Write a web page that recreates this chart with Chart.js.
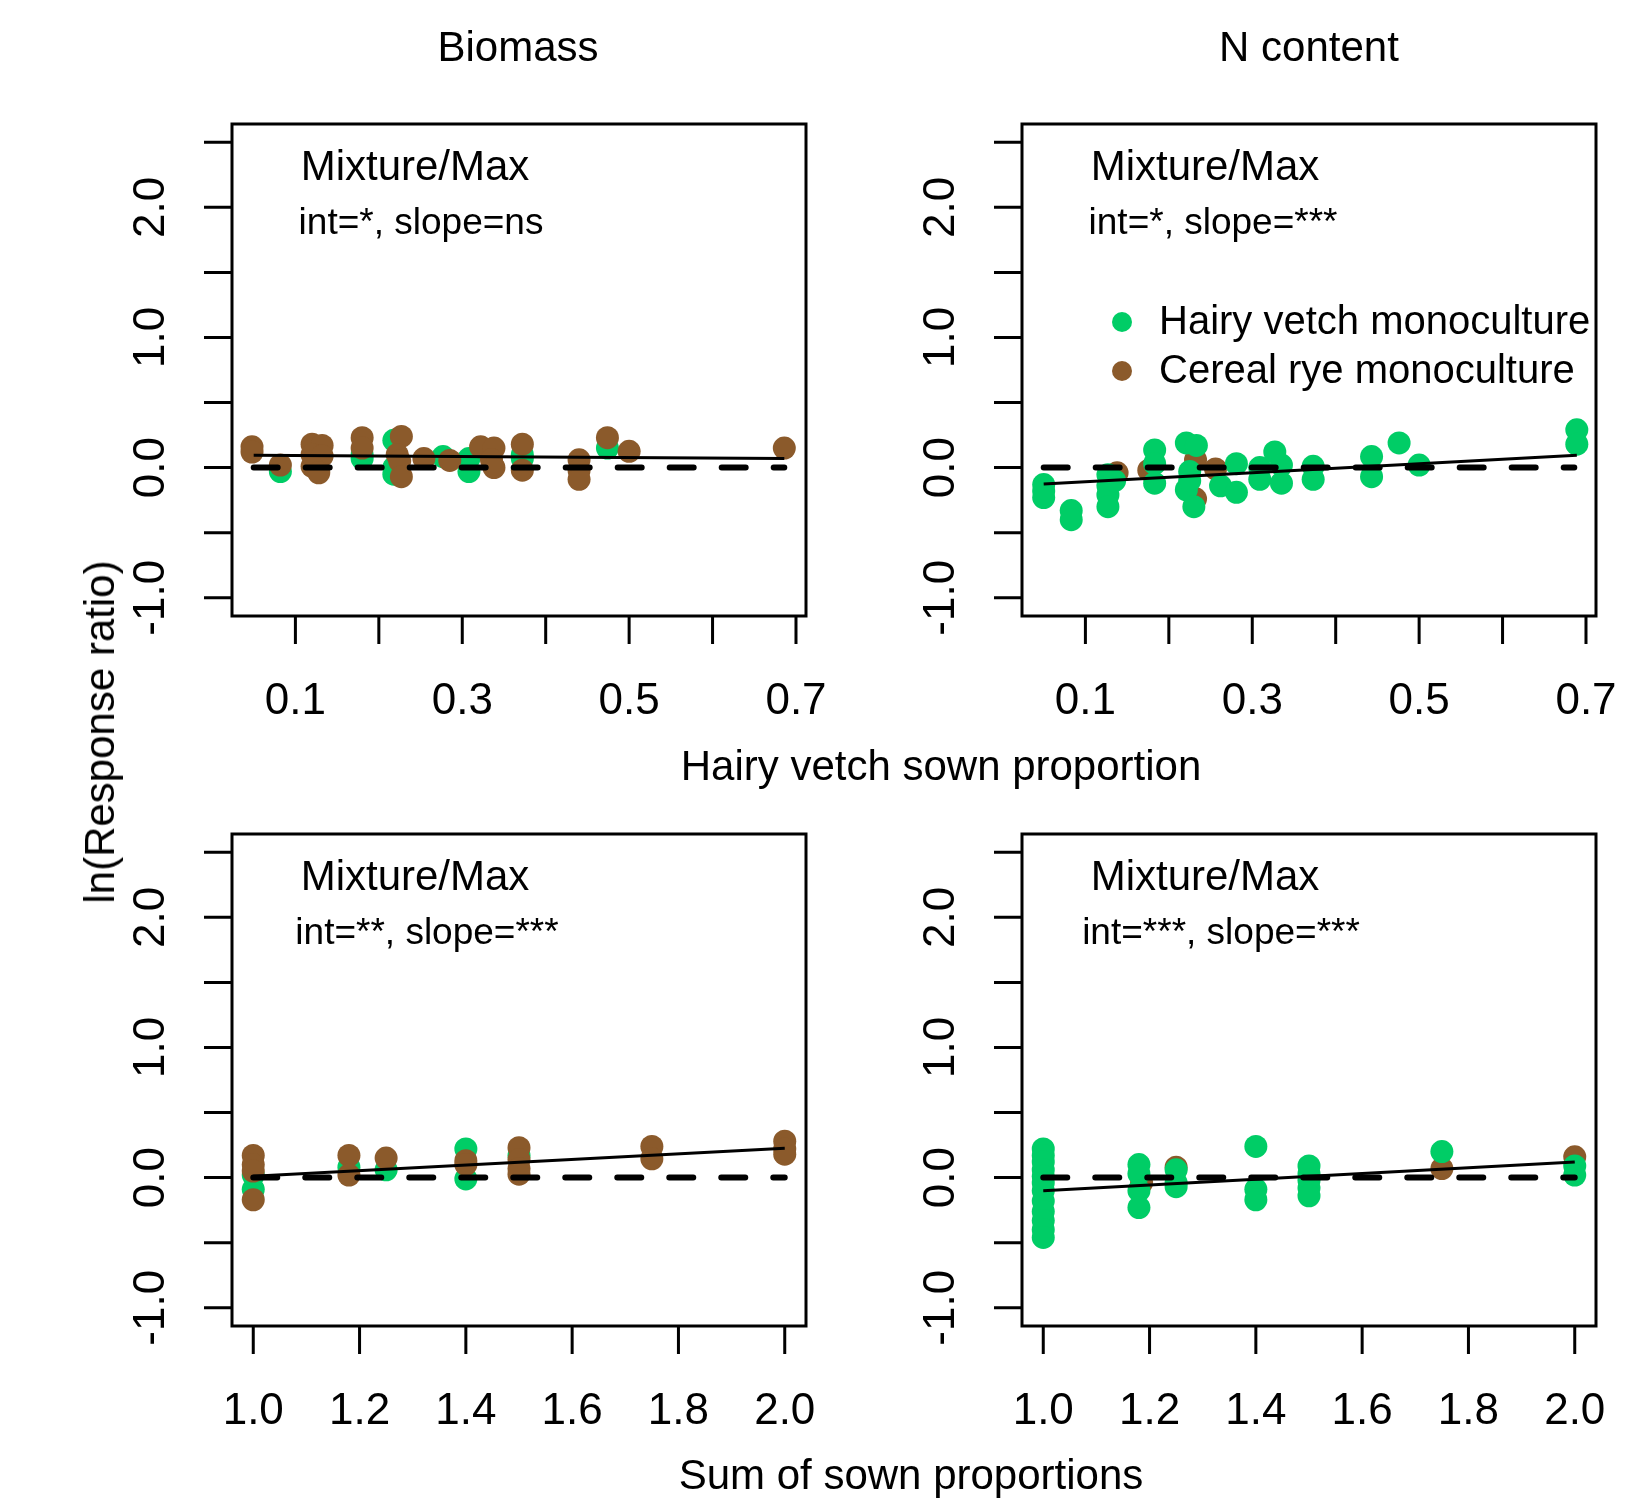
<!DOCTYPE html>
<html>
<head>
<meta charset="utf-8">
<title>ln(Response ratio)</title>
<script src="https://cdn.jsdelivr.net/npm/chart.js@4.4.0/dist/chart.umd.min.js"></script>
<style>
body { margin: 0; background: #fff; }
#wrap { position: relative; width: 1652px; height: 1503px; font-family: "Liberation Sans", Arial, sans-serif; }
#wrap canvas { position: absolute; left: 0; top: 0; }
.lab { position: absolute; color: #000; font-size: 42px; white-space: nowrap; transform: translate(-50%, -50%); }
</style>
</head>
<body>
<div id="wrap">
  <canvas id="c1" width="1652" height="1503"></canvas>
  <canvas id="c2" width="1652" height="1503"></canvas>
  <canvas id="c3" width="1652" height="1503"></canvas>
  <canvas id="c4" width="1652" height="1503"></canvas>
  <div class="lab" style="left:518px;top:47px">Biomass</div>
  <div class="lab" style="left:1309px;top:47px">N content</div>
  <div class="lab" style="left:941px;top:766px">Hairy vetch sown proportion</div>
  <div class="lab" style="left:911px;top:1475px">Sum of sown proportions</div>
  <div class="lab" style="left:100px;top:732px;transform:translate(-50%,-50%) rotate(-90deg)">ln(Response ratio)</div>
</div>
<script>
/** ticks */
const propTicks = [0.1, 0.2, 0.3, 0.4, 0.5, 0.6, 0.7];
const propLabels = [0.1, 0.3, 0.5, 0.7];
const sumTicks = [1.0, 1.2, 1.4, 1.6, 1.8, 2.0];
const sumLabels = [1.0, 1.2, 1.4, 1.6, 1.8, 2.0];
const yTicks = [-1, -0.5, 0, 0.5, 1, 1.5, 2, 2.5];
const yLabels = [-1, 0, 1, 2];

/** Biomass ~ hairy vetch sown proportion */
const bioPropVetch = [[0.082,-0.03],[0.18,0.07],[0.18,0.10],[0.218,0.21],[0.218,0.0],[0.218,-0.05],[0.277,0.085],[0.308,0.07],[0.308,-0.03],[0.372,0.07],[0.372,0.10],[0.474,0.15]];
const bioPropRye = [[0.048,0.16],[0.048,0.12],[0.082,0.02],[0.12,0.18],[0.132,0.17],[0.12,0.10],[0.132,0.09],[0.12,0.01],[0.128,-0.04],[0.18,0.23],[0.18,0.15],[0.227,0.24],[0.222,0.10],[0.225,0.05],[0.227,-0.07],[0.254,0.07],[0.285,0.055],[0.322,0.16],[0.338,0.15],[0.335,0.06],[0.338,0.0],[0.372,0.18],[0.372,-0.02],[0.44,0.06],[0.44,-0.02],[0.44,-0.09],[0.474,0.23],[0.50,0.125],[0.686,0.15]];
const fitBioProp = [[0.05,0.095],[0.686,0.07]];

/** N content ~ hairy vetch sown proportion */
const nPropVetch = [[0.05,-0.13],[0.05,-0.18],[0.05,-0.23],[0.083,-0.33],[0.083,-0.40],[0.127,-0.055],[0.127,-0.14],[0.127,-0.21],[0.127,-0.30],[0.135,-0.10],[0.183,0.136],[0.183,0.03],[0.183,-0.12],[0.221,0.19],[0.233,0.17],[0.225,-0.03],[0.221,-0.17],[0.23,-0.30],[0.225,-0.10],[0.262,-0.14],[0.281,0.03],[0.281,-0.19],[0.309,0.0],[0.309,-0.09],[0.327,0.12],[0.335,0.02],[0.335,-0.12],[0.373,0.01],[0.373,-0.09],[0.443,0.085],[0.443,-0.07],[0.476,0.19],[0.50,0.02],[0.689,0.29],[0.689,0.18]];
const nPropRye = [[0.138,-0.04],[0.176,-0.02],[0.232,0.06],[0.232,-0.24],[0.256,-0.01]];
const fitNProp = [[0.05,-0.125],[0.689,0.095]];
const zeroProp = [[0.05,0],[0.686,0]];

/** Biomass ~ sum of sown proportions */
const bioSumVetch = [[1.0,0.02],[1.0,-0.09],[1.18,0.08],[1.25,0.06],[1.40,0.22],[1.40,-0.01],[1.50,0.17]];
const bioSumRye = [[1.0,0.17],[1.0,0.10],[1.0,0.05],[1.0,-0.17],[1.18,0.17],[1.18,0.02],[1.25,0.15],[1.40,0.13],[1.40,0.10],[1.50,0.23],[1.50,0.14],[1.50,0.07],[1.50,0.026],[1.75,0.24],[1.75,0.145],[2.0,0.28],[2.0,0.22],[2.0,0.18]];
const fitBioSum = [[1.0,0.01],[2.0,0.225]];

/** N content ~ sum of sown proportions */
const nSumVetch = [[1.0,0.22],[1.0,0.17],[1.0,0.12],[1.0,0.06],[1.0,0.01],[1.0,-0.04],[1.0,-0.10],[1.0,-0.18],[1.0,-0.26],[1.0,-0.33],[1.0,-0.40],[1.0,-0.46],[1.18,0.10],[1.18,0.03],[1.18,-0.10],[1.18,-0.23],[1.25,0.06],[1.25,-0.04],[1.25,-0.07],[1.40,0.24],[1.40,-0.09],[1.40,-0.17],[1.50,0.09],[1.50,0.03],[1.50,-0.02],[1.50,-0.08],[1.50,-0.14],[1.75,0.20],[2.0,0.09],[2.0,0.02]];
const nSumRye = [[1.185,-0.04],[1.25,0.08],[1.75,0.07],[2.0,0.16]];
const fitNSum = [[1.0,-0.10],[2.0,0.12]];
const zeroSum = [[1.0,0],[2.0,0]];

const green = "rgb(0, 205, 102)";
const brown = "rgb(139, 90, 43)";
const font = '"Liberation Sans", Arial, sans-serif';

function toXY(arr) {
  return arr.map(function (p) { return { x: p[0], y: p[1] }; });
}

/** ejes estilo R: caja, ticks hacia fuera, etiquetas rotadas en y */
const rAxes = {
  id: 'rAxes',
  afterDraw: function (chart, args, opts) {
    var ctx = chart.ctx;
    var a = chart.chartArea;
    var xs = chart.scales.x, ys = chart.scales.y;
    ctx.save();
    ctx.strokeStyle = '#000';
    ctx.lineWidth = 3;
    ctx.strokeRect(a.left, a.top, a.right - a.left, a.bottom - a.top);
    ctx.beginPath();
    opts.xTicks.forEach(function (v) {
      var px = xs.getPixelForValue(v);
      ctx.moveTo(px, a.bottom);
      ctx.lineTo(px, a.bottom + 28);
    });
    opts.yTicks.forEach(function (v) {
      var py = ys.getPixelForValue(v);
      ctx.moveTo(a.left, py);
      ctx.lineTo(a.left - 28, py);
    });
    ctx.stroke();

    ctx.fillStyle = '#000';
    ctx.textAlign = 'center';
    ctx.textBaseline = 'middle';
    ctx.font = '44px ' + font;
    opts.xLabels.forEach(function (v) {
      ctx.fillText(v.toFixed(1), xs.getPixelForValue(v), a.bottom + 86);
    });
    opts.yLabels.forEach(function (v) {
      ctx.save();
      ctx.translate(a.left - 80, ys.getPixelForValue(v));
      ctx.rotate(-Math.PI / 2);
      ctx.fillText(v.toFixed(1), 0, 0);
      ctx.restore();
    });

    ctx.font = '42px ' + font;
    ctx.fillText('Mixture/Max', a.left + 183, a.top + 44);
    ctx.font = '37px ' + font;
    ctx.fillText(opts.note, a.left + opts.noteX, a.top + 100);

    if (opts.legend) {
      var items = [chart.data.datasets[2], chart.data.datasets[3]];
      ctx.font = '40px ' + font;
      ctx.textAlign = 'left';
      items.forEach(function (ds, i) {
        var cy = a.top + 199 + i * 49;
        ctx.fillStyle = ds.backgroundColor;
        ctx.beginPath();
        ctx.arc(a.left + 100, cy - 1, 10, 0, Math.PI * 2);
        ctx.fill();
        ctx.fillStyle = '#000';
        ctx.fillText(ds.label, a.left + 137, cy);
      });
    }
    ctx.restore();
  }
};

function panel(id, box, xMin, xMax, vetch, rye, fit, zero, greenTop, axis) {
  var ctx = document.getElementById(id).getContext('2d');
  return new Chart(ctx, {
    type: 'scatter',
    data: {
      datasets: [{
        label: 'fit',
        data: toXY(fit),
        showLine: true,
        borderColor: '#000',
        borderWidth: 3,
        pointRadius: 0,
        order: 0
      }, {
        label: 'zero',
        data: toXY(zero),
        showLine: true,
        borderColor: '#000',
        borderWidth: 6,
        borderDash: [24, 28],
        borderCapStyle: 'round',
        pointRadius: 0,
        order: 1
      }, {
        label: 'Hairy vetch monoculture',
        data: toXY(vetch),
        backgroundColor: green,
        borderWidth: 0,
        pointBorderWidth: 0,
        pointRadius: 11.5,
        order: greenTop ? 2 : 3
      }, {
        label: 'Cereal rye monoculture',
        data: toXY(rye),
        backgroundColor: brown,
        borderWidth: 0,
        pointBorderWidth: 0,
        pointRadius: 11.5,
        order: greenTop ? 3 : 2
      }]
    },
    options: {
      responsive: false,
      animation: false,
      devicePixelRatio: 1,
      layout: { padding: { left: box[0], top: box[1], right: 1652 - box[2], bottom: 1503 - box[3] } },
      scales: {
        x: { type: 'linear', min: xMin, max: xMax, display: false },
        y: { type: 'linear', min: -1.14, max: 2.64, display: false }
      },
      plugins: {
        legend: { display: false },
        tooltip: { enabled: false },
        rAxes: axis
      }
    },
    plugins: [rAxes]
  });
}

panel('c1', [232, 124, 806, 616], 0.024, 0.712, bioPropVetch, bioPropRye, fitBioProp, zeroProp, false,
  { xTicks: propTicks, xLabels: propLabels, yTicks: yTicks, yLabels: yLabels, note: 'int=*, slope=ns', noteX: 189, legend: false });
panel('c2', [1022, 124, 1596, 616], 0.024, 0.712, nPropVetch, nPropRye, fitNProp, zeroProp, true,
  { xTicks: propTicks, xLabels: propLabels, yTicks: yTicks, yLabels: yLabels, note: 'int=*, slope=***', noteX: 191, legend: true });
panel('c3', [232, 834, 806, 1326], 0.96, 2.04, bioSumVetch, bioSumRye, fitBioSum, zeroSum, false,
  { xTicks: sumTicks, xLabels: sumLabels, yTicks: yTicks, yLabels: yLabels, note: 'int=**, slope=***', noteX: 195, legend: false });
panel('c4', [1022, 834, 1596, 1326], 0.96, 2.04, nSumVetch, nSumRye, fitNSum, zeroSum, true,
  { xTicks: sumTicks, xLabels: sumLabels, yTicks: yTicks, yLabels: yLabels, note: 'int=***, slope=***', noteX: 199, legend: false });
</script>
</body>
</html>
